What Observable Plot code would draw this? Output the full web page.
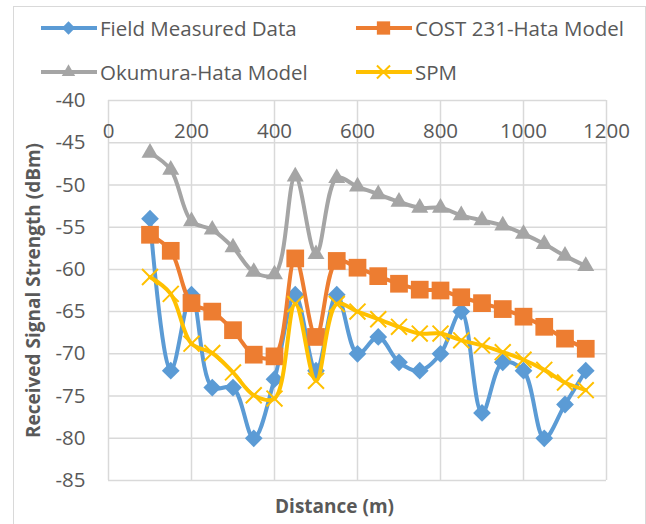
<!DOCTYPE html>
<html>
<head>
<meta charset="utf-8">
<script src="https://cdn.jsdelivr.net/npm/d3@7"></script>
<script src="https://cdn.jsdelivr.net/npm/@observablehq/plot@0.6"></script>
<style>
  body { margin: 0; background: #fff; }
  #chart { position: relative; width: 646px; height: 524px; overflow: hidden; font-family: "Open Sans", sans-serif; background: #fff; }
  #border { position: absolute; left: 13px; top: 6px; width: 633px; height: 600px; border: 1px solid #d9d9d9; box-sizing: border-box; }
  #plot { position: absolute; left: 0; top: 0; }
  .leg { position: absolute; display: flex; align-items: center; height: 24px; color: #595959; font-size: 20.5px; white-space: nowrap; }
  .leg svg { display: block; margin-right: 3px; }
</style>
</head>
<body>
<div id="chart">
  <div id="border"></div>
  <div id="plot"></div>
</div>
<script>
// ---- data ----
const distance = [100,150,200,250,300,350,400,450,500,550,600,650,700,750,800,850,900,950,1000,1050,1100,1150];
const fieldMeasured = [-54,-72,-63,-74,-74,-80,-73,-63,-72,-63,-70,-68,-71,-72,-70,-65,-77,-71,-72,-80,-76,-72];
const cost231 = [-55.9,-57.8,-64,-65,-67.2,-70.1,-70.3,-58.7,-68,-59,-59.8,-60.8,-61.7,-62.4,-62.5,-63.3,-64,-64.7,-65.6,-66.8,-68.2,-69.4];
const okumura = [-46.2,-48.2,-54.3,-55.3,-57.4,-60.3,-60.6,-49,-58.2,-49.2,-50.2,-51.1,-52,-52.7,-52.7,-53.6,-54.2,-54.8,-55.8,-57,-58.4,-59.6];
const spm = [-60.9,-62.9,-68.8,-69.9,-72.2,-74.9,-75.3,-64.1,-73.2,-64.1,-65,-65.9,-66.8,-67.6,-67.6,-68.4,-69,-69.8,-70.7,-71.9,-73.4,-74.3];
const seriesNames = ["Field Measured Data", "COST 231-Hata Model", "Okumura-Hata Model", "SPM"];
const xTicks = [0,200,400,600,800,1000,1200];
const yTicks = [-85,-80,-75,-70,-65,-60,-55,-50,-45,-40];
const xTitle = "Distance (m)";
const yTitle = "Received Signal Strength (dBm)";

// ---- styles ----
const styles = [
  {color: "#5B9BD5", symbol: "diamond2", r: 8, filled: true, legR: 6},
  {color: "#ED7D31", symbol: "square", r: 10, filled: true, legR: 7.5},
  {color: "#A5A5A5", symbol: "triangle", r: 6.3, filled: true, legR: 5},
  {color: "#FFC000", symbol: "times", r: 7.3, filled: false, legR: 6}
];
const valuesList = [fieldMeasured, cost231, okumura, spm];

const seriesMarks = valuesList.flatMap((vals, i) => {
  const s = styles[i];
  const rows = distance.map((d, j) => ({d, v: vals[j]}));
  return [
    Plot.line(rows, {x: "d", y: "v", stroke: s.color, strokeWidth: 4, curve: "catmull-rom"}),
    Plot.dot(rows, {x: "d", y: "v", symbol: s.symbol, r: s.r,
      fill: s.filled ? s.color : "none", stroke: s.filled ? "none" : s.color, strokeWidth: 2})
  ];
});

const chart = Plot.plot({
  width: 646, height: 524,
  marginLeft: 108, marginRight: 40, marginTop: 100, marginBottom: 44,
  x: {domain: [0, 1200], axis: null},
  y: {domain: [-85, -40]},
  style: {fontFamily: "Open Sans", fontSize: "20.5px", color: "#595959", background: "transparent", overflow: "visible"},
  marks: [
    Plot.gridX(xTicks, {stroke: "#d9d9d9", strokeOpacity: 1, strokeWidth: 1.5}),
    Plot.gridY(yTicks, {stroke: "#d9d9d9", strokeOpacity: 1, strokeWidth: 1.5}),
    Plot.axisY(yTicks, {tickSize: 0, tickPadding: 23, label: null, tickFormat: d => String(d), fill: "#595959"}),
    Plot.text(xTicks, {x: d => d, frameAnchor: "top", dy: 31, lineAnchor: "middle", text: d => String(d), fill: "#595959"}),
    ...seriesMarks,
    Plot.text([yTitle], {frameAnchor: "left", dx: -75, rotate: -90, textAnchor: "middle", lineAnchor: "middle", text: d => d, fontWeight: "bold", fontSize: 19, fill: "#595959"}),
    Plot.text([xTitle], {frameAnchor: "bottom", dx: -23, dy: 26, textAnchor: "middle", lineAnchor: "middle", text: d => d, fontWeight: "bold", fontSize: 19, fill: "#595959"})
  ]
});
document.getElementById("plot").appendChild(chart);

// ---- legend ----
const legPos = [{left: 40, top: 16}, {left: 355, top: 16}, {left: 40, top: 60}, {left: 355, top: 60}];
const symMap = {diamond2: d3.symbolDiamond2, square: d3.symbolSquare, triangle: d3.symbolTriangle, times: d3.symbolTimes};
seriesNames.forEach((name, i) => {
  const s = styles[i];
  const div = document.createElement("div");
  div.className = "leg";
  div.style.left = legPos[i].left + "px";
  div.style.top = legPos[i].top + "px";
  const path = d3.symbol(symMap[s.symbol], Math.PI * s.legR * s.legR)();
  div.innerHTML = `<svg width="57" height="24"><line x1="1" x2="57" y1="12" y2="12" stroke="${s.color}" stroke-width="4"/>` +
    `<path transform="translate(28.5,12)" d="${path}" fill="${s.filled ? s.color : "none"}" stroke="${s.filled ? "none" : s.color}" stroke-width="2"/></svg>` +
    `<span>${name}</span>`;
  document.getElementById("chart").appendChild(div);
});
</script>
</body>
</html>
